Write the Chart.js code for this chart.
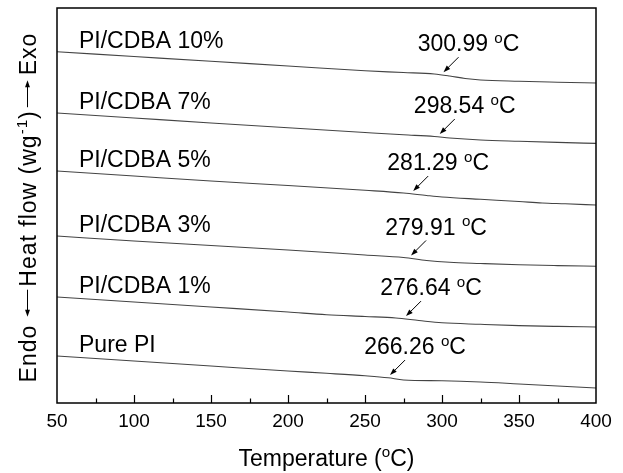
<!DOCTYPE html>
<html>
<head>
<meta charset="utf-8">
<script src="https://cdn.jsdelivr.net/npm/chart.js@4.4.0/dist/chart.umd.min.js"></script>
<style>
  html, body { margin: 0; padding: 0; background: #fff; }
  #wrap { width: 623px; height: 473px; }
</style>
</head>
<body>
<div id="wrap"><canvas id="dsc"></canvas></div>
<script>
// DSC heating traces, each sample shifted vertically (heat flow, a.u.)
const temp10 = [50, 100, 150, 200, 250, 275, 295, 305, 315, 325, 350, 375, 400];
const flow10 = [35.13, 34.65, 34.17, 33.70, 33.22, 33.05, 32.90, 32.70, 32.45, 32.30, 32.17, 32.08, 32.00];

const temp7 = [50, 100, 150, 200, 250, 275, 295, 305, 325, 350, 375, 400];
const flow7 = [29.00, 28.50, 28.00, 27.52, 27.05, 26.82, 26.65, 26.50, 26.30, 26.17, 26.06, 25.96];

const temp5 = [50, 100, 150, 200, 250, 275, 290, 300, 325, 350, 365, 380, 400];
const flow5 = [23.20, 22.70, 22.20, 21.75, 21.27, 21.00, 20.75, 20.60, 20.37, 20.15, 20.00, 19.92, 19.80];

const temp3 = [50, 100, 150, 200, 250, 275, 290, 305, 325, 350, 375, 400];
const flow3 = [16.70, 16.20, 15.75, 15.30, 14.80, 14.55, 14.25, 14.07, 13.95, 13.82, 13.74, 13.68];

const temp1 = [50, 100, 150, 200, 225, 250, 270, 285, 300, 325, 350, 375, 400];
const flow1 = [10.60, 10.10, 9.60, 9.10, 8.83, 8.65, 8.50, 8.25, 8.02, 7.87, 7.74, 7.66, 7.60];

const tempPure = [50, 100, 150, 200, 225, 250, 265, 275, 300, 325, 350, 375, 400];
const flowPure = [4.70, 4.20, 3.70, 3.20, 2.97, 2.72, 2.52, 2.30, 2.22, 2.10, 1.90, 1.70, 1.50];

const sampleNames = ['PI/CDBA 10%', 'PI/CDBA 7%', 'PI/CDBA 5%', 'PI/CDBA 3%', 'PI/CDBA 1%', 'Pure PI'];
const tgValues = [300.99, 298.54, 281.29, 279.91, 276.64, 266.26];
const xTickValues = [50, 100, 150, 200, 250, 300, 350, 400];

const temps = [temp10, temp7, temp5, temp3, temp1, tempPure];
const flows = [flow10, flow7, flow5, flow3, flow1, flowPure];

const FONT = "'Liberation Sans', Arial, Helvetica, sans-serif";
const SUP = 0.66;

function flowAt(ts, fs, t) {
  for (let i = 1; i < ts.length; i++) {
    if (t <= ts[i]) {
      const f = (t - ts[i - 1]) / (ts[i] - ts[i - 1]);
      return fs[i - 1] + f * (fs[i] - fs[i - 1]);
    }
  }
  return fs[fs.length - 1];
}

function arrow(ctx, x1, y1, x2, y2, head) {
  const a = Math.atan2(y2 - y1, x2 - x1);
  const c = Math.cos(a), s = Math.sin(a);
  ctx.beginPath();
  ctx.moveTo(x1, y1);
  ctx.lineTo(x2 - head * 0.6 * c, y2 - head * 0.6 * s);
  ctx.stroke();
  ctx.beginPath();
  ctx.moveTo(x2, y2);
  ctx.lineTo(x2 - head * c + head * 0.35 * s, y2 - head * s - head * 0.35 * c);
  ctx.lineTo(x2 - head * c - head * 0.35 * s, y2 - head * s + head * 0.35 * c);
  ctx.closePath();
  ctx.fill();
}

// text with superscript pieces, y is the baseline
function partsWidth(ctx, parts, size) {
  let w = 0;
  parts.forEach(p => {
    ctx.font = (p.sup ? size * SUP : size) + 'px ' + FONT;
    w += ctx.measureText(p.t).width;
  });
  return w;
}
function drawParts(ctx, parts, x, y, size) {
  parts.forEach(p => {
    ctx.font = (p.sup ? size * SUP : size) + 'px ' + FONT;
    ctx.fillText(p.t, x, y + (p.sup ? -0.38 * size : 0));
    x += ctx.measureText(p.t).width;
  });
  return x;
}

const decor = {
  id: 'decor',
  afterDatasetsDraw(chart) {
    const ctx = chart.ctx;
    const area = chart.chartArea;
    const xs = chart.scales.x, ys = chart.scales.y;
    ctx.save();
    ctx.fillStyle = '#000';
    ctx.strokeStyle = '#000';
    ctx.textAlign = 'left';
    ctx.textBaseline = 'alphabetic';

    // frame
    ctx.lineWidth = 1.5;
    ctx.strokeRect(area.left, area.top, area.right - area.left, area.bottom - area.top);

    // inward ticks on the temperature axis
    ctx.lineWidth = 1.2;
    for (let v = 75; v < 400; v += 25) {
      const px = Math.round(xs.getPixelForValue(v)) + 0.5;
      const len = v % 50 === 0 ? 8 : 4.5;
      ctx.beginPath();
      ctx.moveTo(px, area.bottom);
      ctx.lineTo(px, area.bottom - len);
      ctx.stroke();
    }

    // sample names and Tg markers
    const size = 23, capH = size * 0.716;
    ctx.lineWidth = 1;
    sampleNames.forEach((name, i) => {
      const y0 = ys.getPixelForValue(flows[i][0]);
      ctx.font = size + 'px ' + FONT;
      ctx.fillText(name, area.left + 22, y0 - 12 + capH / 2);

      const tg = tgValues[i];
      const tipX = xs.getPixelForValue(tg);
      const tipY = ys.getPixelForValue(flowAt(temps[i], flows[i], tg)) - 3;
      arrow(ctx, tipX + 15, tipY - 15, tipX, tipY, 7);

      const parts = [{ t: tg.toFixed(2) + ' ' }, { t: 'o', sup: true }, { t: 'C' }];
      const w = partsWidth(ctx, parts, size);
      drawParts(ctx, parts, tipX + 25 - w / 2, tipY - 29 + capH / 2, size);
    });

    // x axis title
    const tSize = 23;
    const xParts = [{ t: 'Temperature (' }, { t: 'o', sup: true }, { t: 'C)' }];
    const xw = partsWidth(ctx, xParts, tSize);
    drawParts(ctx, xParts, (area.left + area.right) / 2 - xw / 2, 458 + tSize * 0.716 / 2, tSize);

    // y axis title, rotated, with Endo / Exo arrows
    const ySize = 23;
    ctx.letterSpacing = '1px';
    const p1 = [{ t: 'Endo' }];
    const p2 = [{ t: 'Heat flow (wg' }, { t: '-1', sup: true }, { t: ')' }];
    const p3 = [{ t: 'Exo' }];
    const w1 = partsWidth(ctx, p1, ySize), w2 = partsWidth(ctx, p2, ySize), w3 = partsWidth(ctx, p3, ySize);
    const arrowLen = 27, gapA = 8, gapB = 3;
    const total = w1 + gapA + arrowLen + gapB + w2 + gapB + arrowLen + gapA - 3 + w3;
    const cy = (area.top + area.bottom) / 2 + 2;
    ctx.translate(27.5, cy + total / 2);
    ctx.rotate(-Math.PI / 2);
    const base = ySize * 0.716 / 2;
    let u = drawParts(ctx, p1, 0, base, ySize);
    u += gapA;
    arrow(ctx, u + arrowLen, 0, u, 0, 7);
    u += arrowLen + gapB;
    u = drawParts(ctx, p2, u, base, ySize);
    u += gapB;
    arrow(ctx, u, 0, u + arrowLen, 0, 7);
    u += arrowLen + gapA - 3;
    drawParts(ctx, p3, u, base, ySize);
    ctx.restore();
  }
};

const datasets = sampleNames.map((name, i) => ({
  label: name,
  data: temps[i].map((t, k) => ({ x: t, y: flows[i][k] })),
  borderColor: '#444',
  borderWidth: 1.1,
  pointRadius: 0,
  fill: false,
  cubicInterpolationMode: 'monotone'
}));

new Chart(document.getElementById('dsc'), {
  type: 'line',
  data: { datasets },
  options: {
    responsive: true,
    maintainAspectRatio: false,
    animation: false,
    layout: { padding: { top: 8, right: 27, left: 0, bottom: 0 } },
    plugins: { legend: { display: false }, tooltip: { enabled: false } },
    scales: {
      x: {
        type: 'linear',
        min: 50,
        max: 400,
        afterBuildTicks: scale => { scale.ticks = xTickValues.map(v => ({ value: v })); },
        afterFit: scale => { scale.height = 70; },
        grid: { display: false, drawTicks: false },
        border: { display: false },
        ticks: { color: '#000', padding: 7, maxRotation: 0, font: { family: FONT, size: 19 } }
      },
      y: {
        min: 0,
        max: 39.5,
        afterFit: scale => { scale.width = 57; },
        grid: { display: false, drawTicks: false },
        border: { display: false },
        ticks: { display: false }
      }
    }
  },
  plugins: [decor]
});
</script>
</body>
</html>
